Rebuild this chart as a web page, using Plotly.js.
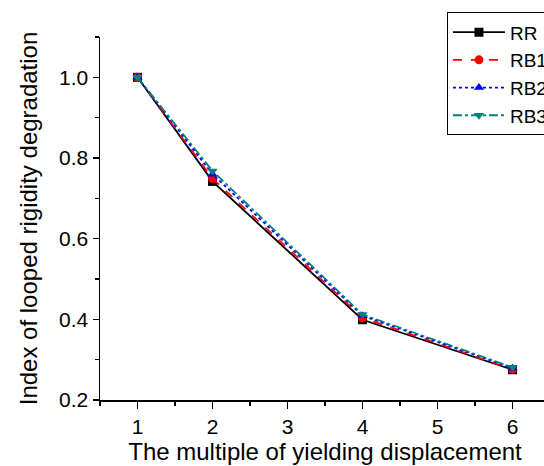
<!DOCTYPE html>
<html>
<head>
<meta charset="utf-8">
<script src="https://cdn.plot.ly/plotly-3.0.1.min.js"></script>
<style>html,body{margin:0;padding:0;background:#fff;overflow:hidden;width:544px;height:466px;}#chart{width:570px;height:466px;}</style>
</head>
<body>
<div id="chart"></div>
<script>
const xValues = [1, 2, 4, 6];
const seriesNames = ["RR", "RB1", "RB2", "RB3"];
const rr  = [1.0, 0.742, 0.399, 0.275];
const rb1 = [1.0, 0.749, 0.404, 0.276];
const rb2 = [1.0, 0.760, 0.409, 0.279];
const rb3 = [1.0, 0.768, 0.412, 0.281];
const xTicks = [1, 2, 3, 4, 5, 6];
const yTicks = [0.2, 0.4, 0.6, 0.8, 1.0];

const styles = [
  {color: "#000000", dash: "solid", symbol: "square"},
  {color: "#ff0000", dash: "dash", symbol: "circle"},
  {color: "#0000ff", dash: "dot", symbol: "triangle-up"},
  {color: "#008080", dash: "dashdot", symbol: "triangle-down"}
];
const allSeries = [rr, rb1, rb2, rb3];
const traces = allSeries.map((ys, i) => ({
  x: xValues, y: ys, name: seriesNames[i], type: "scatter", mode: "lines+markers",
  line: {color: styles[i].color, dash: styles[i].dash, width: 1.8},
  marker: {color: styles[i].color, symbol: styles[i].symbol, size: 9}
}));

const fam = "Liberation Sans, Arial, sans-serif";
const layout = {
  width: 570, height: 466,
  margin: {l: 100, r: 20, t: 35, b: 66, pad: 0},
  paper_bgcolor: "#fff", plot_bgcolor: "#fff",
  font: {family: fam, color: "#000", size: 19},
  showlegend: true,
  legend: {x: 0.771, y: 1.068, xanchor: "left", yanchor: "top",
    bordercolor: "#000", borderwidth: 1, bgcolor: "#fff", itemwidth: 52,
    font: {family: fam, size: 19, color: "#000"}},
  xaxis: {
    range: [0.5, 6.5], tickvals: xTicks, ticktext: xTicks.map(String),
    showgrid: false, zeroline: false, showline: true, linecolor: "#000", linewidth: 1.5,
    ticks: "outside", ticklen: 7, tickwidth: 1.5, tickcolor: "#000",
    minor: {dtick: 0.5, tick0: 0.5, ticks: "outside", ticklen: 4, tickwidth: 1.5, tickcolor: "#000", showgrid: false},
    tickfont: {family: fam, size: 21, color: "#000"},
    title: {text: "The multiple of yielding displacement", font: {family: fam, size: 24, color: "#000"}, standoff: 2}
  },
  yaxis: {
    range: [0.2, 1.1], tickvals: yTicks, ticktext: yTicks.map(v => v.toFixed(1)),
    showgrid: false, zeroline: false, showline: true, linecolor: "#000", linewidth: 1.5,
    ticks: "outside", ticklen: 6, tickwidth: 1.5, tickcolor: "#000",
    minor: {dtick: 0.1, tick0: 0.1, ticks: "outside", ticklen: 4, tickwidth: 1.5, tickcolor: "#000", showgrid: false},
    tickfont: {family: fam, size: 21, color: "#000"},
    title: {text: "Index of looped rigidity degradation", font: {family: fam, size: 24, color: "#000"}, standoff: 14}
  }
};
Plotly.newPlot("chart", traces, layout, {displayModeBar: false, staticPlot: true});
</script>
</body>
</html>
